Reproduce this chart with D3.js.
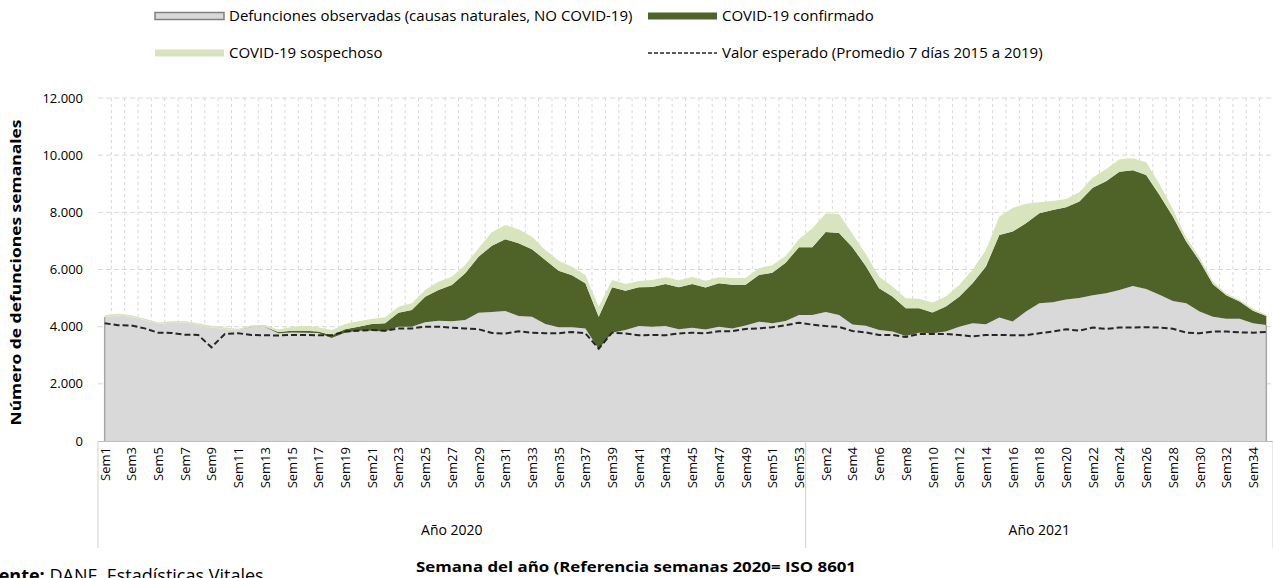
<!DOCTYPE html>
<html>
<head>
<meta charset="utf-8">
<script src="https://cdn.jsdelivr.net/npm/d3@7"></script>
<style>
  body { margin: 0; background: #fff; }
  svg { display: block; }
  text { font-family: "Open Sans", "Noto Sans", sans-serif; fill: #000; }
</style>
</head>
<body>
<svg id="chart" width="1273" height="578"></svg>
<script>
// semanas: 53 de 2020 + 35 de 2021
const years = [{ label: 'Año 2020', weeks: 53 }, { label: 'Año 2021', weeks: 35 }];

// Defunciones observadas (causas naturales, NO COVID-19)
const observed = [
  4335, 4390, 4335, 4225, 4100, 4135, 4145, 4065, 3975, 3915, 3885, 3990, 3990, 3770, 3800, 3790, 3780, 3600,
  3790, 3860, 3860, 3830, 4000, 4000, 4155, 4210, 4190, 4235, 4490, 4510, 4550, 4375, 4350, 4095, 3980, 3980,
  3940, 3220, 3790, 3885, 4025, 4000, 4025, 3910, 3960, 3900, 4000, 3940, 4040, 4175, 4120, 4200, 4410,
  4410, 4510, 4410, 4080, 4030, 3885, 3830, 3675, 3790, 3770, 3830, 4000, 4120, 4085, 4320, 4180, 4530, 4820,
  4850, 4950, 5000, 5100, 5170, 5280, 5420, 5320, 5120, 4900, 4820, 4530, 4350, 4280, 4280, 4120, 4060
];
// COVID-19 confirmado
const confirmed = [
  0, 0, 0, 0, 0, 0, 0, 0, 0, 0, 0, 10, 10, 40, 60, 70, 50, 100,
  120, 140, 235, 290, 490, 585, 895, 1075, 1270, 1635, 1960, 2320, 2510, 2545, 2360, 2240, 1980, 1820,
  1580, 1130, 1590, 1375, 1355, 1390, 1470, 1470, 1535, 1470, 1520, 1530, 1430, 1635, 1770, 2040, 2370,
  2370, 2800, 2870, 2700, 2095, 1455, 1225, 970, 855, 725, 875, 1050, 1400, 2020, 2890, 3150, 3090, 3150,
  3235, 3230, 3380, 3760, 3920, 4140, 4050, 3990, 3490, 2950, 2160, 1770, 1130, 820, 600, 440, 310
];
// COVID-19 sospechoso
const suspected = [
  75, 65, 65, 55, 50, 55, 55, 55, 55, 55, 45, 50, 60, 90, 130, 165, 150, 180,
  185, 190, 175, 210, 210, 235, 235, 290, 290, 290, 290, 470, 500, 490, 440, 350, 350, 300,
  290, 350, 255, 235, 220, 245, 235, 240, 240, 240, 210, 230, 230, 235, 260, 235, 280,
  660, 650, 660, 470, 420, 410, 350, 350, 330, 350, 350, 410, 470, 580, 640, 820, 680, 380,
  315, 290, 320, 360, 420, 440, 420, 440, 380, 260, 140, 120, 100, 60, 50, 70, 50
];
// Valor esperado (Promedio 7 días 2015 a 2019)
const expected = [
  4120, 4050, 4040, 3940, 3790, 3780, 3720, 3710, 3280, 3745, 3770, 3710, 3700, 3690, 3710, 3710, 3700, 3700,
  3830, 3860, 3880, 3860, 3940, 3940, 4000, 4000, 3960, 3940, 3910, 3780, 3760, 3840, 3790, 3770, 3770, 3815,
  3770, 3230, 3790, 3760, 3700, 3710, 3700, 3760, 3790, 3770, 3840, 3840, 3920, 3940, 3980, 4050, 4140,
  4070, 4020, 3990, 3850, 3800, 3710, 3710, 3640, 3745, 3745, 3745, 3710, 3660, 3710, 3710, 3700, 3700, 3770,
  3830, 3910, 3860, 3970, 3920, 3970, 3970, 3980, 3970, 3930, 3790, 3770, 3830, 3830, 3800, 3790, 3815
];
const yTicks = [0, 2000, 4000, 6000, 8000, 10000, 12000];

const legendItems = [
  { label: 'Defunciones observadas (causas naturales, NO COVID-19)', kind: 'obs', col: 0, row: 0 },
  { label: 'COVID-19 confirmado', kind: 'conf', col: 1, row: 0 },
  { label: 'COVID-19 sospechoso', kind: 'susp', col: 0, row: 1 },
  { label: 'Valor esperado (Promedio 7 días 2015 a 2019)', kind: 'exp', col: 1, row: 1 }
];

const COLORS = { obs: '#d9d9d9', obsEdge: '#a6a6a6', conf: '#4f6228', susp: '#d7e4bd', exp: '#262626', grid: '#d9d9d9' };
const M = { left: 98, right: 1273, top: 98, bottom: 441 };

// categorías: "Sem1".."Sem53" y "Sem1".."Sem35", con clave única por año
const cats = [];
years.forEach((yr, yi) => {
  for (let w = 1; w <= yr.weeks; w++) cats.push({ key: yi + '-' + w, label: 'Sem' + w, year: yi });
});
const rows = cats.map((c, i) => ({
  key: c.key, obs: observed[i], conf: confirmed[i], susp: suspected[i], exp: expected[i]
}));

const svg = d3.select('#chart');

const x = d3.scalePoint().domain(cats.map(c => c.key)).range([M.left, M.right]).padding(0.5);
const step = x.step();
const y = d3.scaleLinear().domain([0, 12000]).range([M.bottom, M.top]);

/* ---------- rejilla ---------- */
const grid = svg.append('g');
for (let k = 1; k < cats.length; k++) {
  const gx = M.left + k * step;
  grid.append('line')
    .attr('x1', gx).attr('x2', gx).attr('y1', M.top).attr('y2', M.bottom)
    .attr('stroke', COLORS.grid).attr('stroke-dasharray', '3,3');
}
yTicks.filter(t => t > 0).forEach(t => {
  grid.append('line')
    .attr('x1', M.left).attr('x2', M.right).attr('y1', y(t)).attr('y2', y(t))
    .attr('stroke', COLORS.grid).attr('stroke-dasharray', '5,3');
});

/* ---------- áreas apiladas ---------- */
const stack = d3.stack().keys(['obs', 'conf', 'susp']);
const series = stack(rows);
const area = d3.area()
  .x(d => x(d.data.key))
  .y0(d => y(d[0]))
  .y1(d => y(d[1]));

svg.append('g').selectAll('path')
  .data(series)
  .join('path')
  .attr('d', area)
  .attr('fill', d => COLORS[d.key]);

// bordes laterales del área gris
const firstX = x(rows[0].key), lastX = x(rows[rows.length - 1].key);
[[firstX, rows[0].obs], [lastX, rows[rows.length - 1].obs]].forEach(([ex, v]) => {
  svg.append('line')
    .attr('x1', ex).attr('x2', ex).attr('y1', y(0)).attr('y2', y(v))
    .attr('stroke', COLORS.obsEdge).attr('stroke-width', 1.5);
});

/* ---------- valor esperado ---------- */
const line = d3.line().x(d => x(d.key)).y(d => y(d.exp));
svg.append('path')
  .datum(rows)
  .attr('d', line)
  .attr('fill', 'none')
  .attr('stroke', COLORS.exp)
  .attr('stroke-width', 2)
  .attr('stroke-dasharray', '6,3');

/* ---------- eje Y ---------- */
const yAxis = svg.append('g');
yTicks.forEach(t => {
  yAxis.append('text')
    .attr('x', 83).attr('y', y(t)).attr('dy', '0.35em')
    .attr('text-anchor', 'end').attr('font-size', 13)
    .text(d3.format(',')(t).replace(/,/g, '.'));
});
svg.append('text')
  .attr('transform', `translate(21,${(M.top + M.bottom) / 2 + 3}) rotate(-90)`)
  .attr('text-anchor', 'middle').attr('font-size', 14).attr('font-weight', 'bold')
  .attr('textLength', 306).attr('lengthAdjust', 'spacingAndGlyphs')
  .text('Número de defunciones semanales');

/* ---------- eje X (categorías de dos niveles) ---------- */
const xAxis = svg.append('g');
xAxis.append('line')
  .attr('x1', M.left).attr('x2', M.right).attr('y1', M.bottom + 0.5).attr('y2', M.bottom + 0.5)
  .attr('stroke', '#bfbfbf');
cats.forEach((c, i) => {
  const w = +c.key.split('-')[1];
  if (w % 2 === (c.year === 0 ? 1 : 0)) {
    xAxis.append('text')
      .attr('transform', `translate(${x(c.key) + 5},447) rotate(-90)`)
      .attr('text-anchor', 'end').attr('font-size', 13)
      .text(c.label);
  }
});
let start = 0;
const bounds = [M.left];
years.forEach(yr => { start += yr.weeks; bounds.push(M.left + start * step); });
bounds.forEach(bx => {
  xAxis.append('line')
    .attr('x1', bx).attr('x2', bx).attr('y1', M.bottom).attr('y2', 548)
    .attr('stroke', '#d0d0d0');
});
years.forEach((yr, yi) => {
  xAxis.append('text')
    .attr('x', (bounds[yi] + bounds[yi + 1]) / 2).attr('y', 535)
    .attr('text-anchor', 'middle').attr('font-size', 14)
    .text(yr.label);
});
svg.append('text')
  .attr('x', 636).attr('y', 572)
  .attr('text-anchor', 'middle').attr('font-size', 14).attr('font-weight', 'bold')
  .attr('textLength', 440).attr('lengthAdjust', 'spacingAndGlyphs')
  .text('Semana del año (Referencia semanas 2020= ISO 8601');

const src = svg.append('text').attr('x', -23).attr('y', 582).attr('font-size', 18);
src.append('tspan').attr('font-weight', 'bold').text('Fuente:');
src.append('tspan').text(' DANE, Estadísticas Vitales');

/* ---------- leyenda ---------- */
const legend = svg.append('g');
const colX = [155, 648], rowY = [16, 53];
legendItems.forEach(it => {
  const lx = colX[it.col], ly = rowY[it.row];
  if (it.kind === 'exp') {
    legend.append('line')
      .attr('x1', lx).attr('x2', lx + 69).attr('y1', ly).attr('y2', ly)
      .attr('stroke', COLORS.exp).attr('stroke-width', 1.5).attr('stroke-dasharray', '4,2');
  } else {
    legend.append('rect')
      .attr('x', lx).attr('y', ly - 3.5).attr('width', 69).attr('height', 7)
      .attr('fill', COLORS[it.kind])
      .attr('stroke', it.kind === 'obs' ? '#808080' : 'none').attr('stroke-width', 1.5);
  }
  legend.append('text')
    .attr('x', lx + 74).attr('y', ly).attr('dy', '0.35em').attr('font-size', 15)
    .text(it.label);
});
</script>
</body>
</html>
